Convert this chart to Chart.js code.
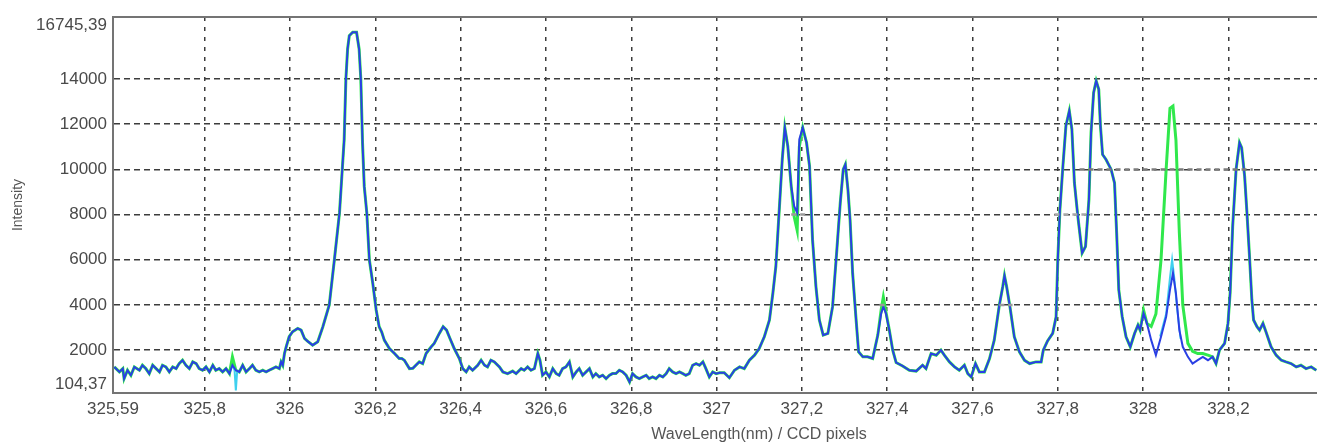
<!DOCTYPE html>
<html>
<head>
<meta charset="utf-8">
<title>Spectrum</title>
<script src="https://cdn.jsdelivr.net/npm/chart.js@4.4.1/dist/chart.umd.min.js"></script>
<style>
  html, body { margin: 0; padding: 0; background: #ffffff; overflow: hidden; }
  #wrap { width: 1317px; height: 443px; overflow: hidden; position: relative; }
  canvas { display: block; }
</style>
</head>
<body>
<div id="wrap"><canvas id="spectrum" width="1405" height="443"></canvas></div>
<script>
// Wavelength grid (nm), ten samples per row
const wavelengths = [
  325.588, 325.600, 325.608, 325.611, 325.619, 325.627, 325.635, 325.647, 325.654, 325.662,
  325.670, 325.678, 325.686, 325.694, 325.701, 325.709, 325.717, 325.725, 325.733, 325.740,
  325.748, 325.756, 325.764, 325.772, 325.780, 325.787, 325.795, 325.803, 325.811, 325.819,
  325.826, 325.834, 325.842, 325.850, 325.858, 325.865, 325.873, 325.881, 325.889, 325.897,
  325.905, 325.912, 325.920, 325.928, 325.936, 325.944, 325.951, 325.959, 325.967, 325.975,
  325.979, 325.983, 325.987, 325.991, 325.998, 326.006, 326.018, 326.026, 326.034, 326.041,
  326.053, 326.065, 326.077, 326.092, 326.104, 326.116, 326.123, 326.127, 326.131, 326.135,
  326.139, 326.147, 326.156, 326.162, 326.166, 326.170, 326.174, 326.180, 326.186, 326.194,
  326.202, 326.209, 326.215, 326.221, 326.233, 326.245, 326.256, 326.262, 326.268, 326.280,
  326.288, 326.295, 326.303, 326.311, 326.319, 326.331, 326.338, 326.350, 326.359, 326.367,
  326.375, 326.385, 326.397, 326.405, 326.413, 326.420, 326.428, 326.440, 326.448, 326.456,
  326.463, 326.471, 326.479, 326.491, 326.499, 326.510, 326.522, 326.530, 326.542, 326.549,
  326.557, 326.565, 326.573, 326.581, 326.586, 326.592, 326.600, 326.608, 326.616, 326.624,
  326.631, 326.639, 326.647, 326.655, 326.663, 326.671, 326.678, 326.686, 326.694, 326.702,
  326.710, 326.717, 326.725, 326.733, 326.741, 326.749, 326.756, 326.764, 326.772, 326.780,
  326.788, 326.796, 326.803, 326.811, 326.819, 326.827, 326.835, 326.842, 326.850, 326.858,
  326.866, 326.874, 326.882, 326.889, 326.897, 326.905, 326.913, 326.921, 326.928, 326.936,
  326.944, 326.952, 326.960, 326.968, 326.975, 326.983, 326.991, 326.999, 327.007, 327.018,
  327.030, 327.042, 327.054, 327.065, 327.077, 327.089, 327.100, 327.112, 327.124, 327.132,
  327.139, 327.147, 327.154, 327.160, 327.167, 327.175, 327.182, 327.189, 327.194, 327.202,
  327.211, 327.218, 327.225, 327.233, 327.241, 327.250, 327.261, 327.272, 327.282, 327.290,
  327.297, 327.302, 327.308, 327.313, 327.319, 327.326, 327.333, 327.343, 327.354, 327.366,
  327.378, 327.386, 327.391, 327.397, 327.405, 327.413, 327.421, 327.436, 327.452, 327.468,
  327.483, 327.491, 327.503, 327.515, 327.526, 327.534, 327.546, 327.558, 327.569, 327.581,
  327.589, 327.597, 327.607, 327.616, 327.628, 327.640, 327.651, 327.663, 327.671, 327.675,
  327.680, 327.688, 327.698, 327.710, 327.722, 327.734, 327.749, 327.761, 327.766, 327.776,
  327.788, 327.796, 327.800, 327.805, 327.812, 327.819, 327.827, 327.833, 327.839, 327.847,
  327.857, 327.865, 327.873, 327.878, 327.884, 327.890, 327.896, 327.900, 327.905, 327.913,
  327.925, 327.933, 327.938, 327.943, 327.951, 327.960, 327.970, 327.980, 327.988, 327.993,
  328.001, 328.009, 328.019, 328.030, 328.042, 328.054, 328.063, 328.070, 328.077, 328.085,
  328.093, 328.105, 328.116, 328.128, 328.140, 328.152, 328.163, 328.171, 328.179, 328.191,
  328.199, 328.204, 328.210, 328.218, 328.226, 328.231, 328.238, 328.243, 328.249, 328.255,
  328.259, 328.267, 328.273, 328.281, 328.288, 328.300, 328.312, 328.324, 328.335, 328.347,
  328.359, 328.370, 328.382, 328.394, 328.406
];

// Measured intensity, blue trace
const blueCounts = [
  1259, 1037, 1185, 741, 1111, 889, 1259, 1111, 1333, 1185,
  963, 1333, 1185, 1037, 1333, 1259, 1037, 1259, 1185, 1407,
  1556, 1333, 1185, 1482, 1407, 1185, 1111, 1259, 1037, 1333,
  1111, 1185, 1037, 1185, 963, 1333, 1111, 1037, 1333, 1037,
  1185, 1333, 1111, 1037, 1111, 1037, 1111, 1185, 1259, 1185,
  1482, 1333, 1852, 2148, 2593, 2815, 2963, 2889, 2519, 2400,
  2222, 2370, 3037, 4000, 6000, 8074, 10148, 11330, 14000, 15330,
  15920, 16070, 16070, 15330, 14000, 11180, 9260, 8074, 6000, 4963,
  3780, 3037, 2800, 2444, 2074, 1852, 1630, 1630, 1556, 1185,
  1200, 1333, 1481, 1407, 1852, 2148, 2296, 2741, 3037, 2889,
  2519, 2074, 1630, 1185, 1037, 1259, 1111, 1333, 1556, 1333,
  1259, 1556, 1481, 1259, 1037, 963, 1074, 963, 1185, 1111,
  1259, 1111, 1185, 1852, 1556, 889, 1037, 815, 1185, 963,
  889, 1185, 1259, 1481, 815, 1037, 1185, 889, 1037, 1185,
  815, 963, 815, 889, 741, 889, 963, 963, 1111, 1037,
  889, 593, 963, 815, 741, 815, 889, 741, 815, 741,
  889, 815, 963, 1185, 1037, 963, 1037, 963, 889, 963,
  1333, 1407, 1333, 1481, 1185, 815, 1037, 963, 1000, 1000,
  780, 1111, 1259, 1185, 1556, 1778, 2074, 2593, 3333, 4519,
  5704, 8222, 10440, 11850, 11030, 9260, 8370, 8074, 11330, 11850,
  11180, 10150, 6890, 4814, 3333, 2667, 2741, 3926, 6440, 8519,
  10000, 10220, 9110, 7780, 5407, 3630, 1926, 1704, 1704, 1630,
  2667, 3630, 3926, 3630, 2889, 2000, 1450, 1300, 1111, 1074,
  1333, 1185, 1852, 1778, 2000, 1778, 1481, 1259, 1111, 1333,
  963, 815, 1407, 1037, 1037, 1630, 2444, 4000, 4815, 5300,
  4815, 3900, 2593, 1926, 1550, 1407, 1481, 1481, 2000, 2407,
  2741, 3481, 6000, 8222, 10150, 11920, 12590, 11780, 9400, 7925,
  6300, 6590, 8666, 11630, 13400, 13920, 13550, 11920, 10660, 10440,
  10000, 9400, 7180, 4666, 3481, 2593, 2148, 2741, 3111, 2889,
  3630, 3185, 2444, 1778, 2593, 3481, 4666, 5407, 4519, 2889,
  2148, 1704, 1407, 1556, 1704, 1556, 1704, 1407, 2000, 2296,
  3185, 4519, 7481, 10000, 11180, 10960, 9700, 8222, 6300, 4222,
  3333, 3037, 2889, 3185, 2815, 2148, 1778, 1556, 1481, 1407,
  1259, 1333, 1185, 1259, 1111
];

// Measured intensity, green trace
const greenCounts = [
  1259, 1037, 1185, 741, 1111, 889, 1259, 1111, 1333, 1185,
  963, 1333, 1185, 1037, 1333, 1259, 1037, 1259, 1185, 1407,
  1556, 1333, 1185, 1482, 1407, 1185, 1111, 1259, 1037, 1333,
  1111, 1185, 1037, 1185, 963, 1704, 1111, 1037, 1333, 1037,
  1185, 1333, 1111, 1037, 1111, 1037, 1111, 1185, 1259, 1185,
  1482, 1333, 1852, 2148, 2593, 2815, 2963, 2889, 2519, 2400,
  2222, 2370, 3037, 4000, 6000, 8074, 10148, 11330, 14000, 15330,
  15920, 16070, 16070, 15330, 14000, 11180, 9260, 8074, 6000, 4963,
  3780, 3037, 2800, 2444, 2074, 1852, 1630, 1630, 1556, 1185,
  1200, 1333, 1481, 1407, 1852, 2148, 2296, 2741, 3037, 2889,
  2519, 2074, 1630, 1185, 1037, 1259, 1111, 1333, 1556, 1333,
  1259, 1556, 1481, 1259, 1037, 963, 1074, 963, 1185, 1111,
  1259, 1111, 1185, 1852, 1556, 889, 1037, 815, 1185, 963,
  889, 1185, 1259, 1481, 815, 1037, 1185, 889, 1037, 1185,
  815, 963, 815, 889, 741, 889, 963, 963, 1111, 1037,
  889, 593, 963, 815, 741, 815, 889, 741, 815, 741,
  889, 815, 963, 1185, 1037, 963, 1037, 963, 889, 963,
  1333, 1407, 1333, 1481, 1185, 815, 1037, 963, 1000, 1000,
  780, 1111, 1259, 1185, 1556, 1778, 2074, 2593, 3333, 4519,
  5704, 8222, 10440, 11850, 11030, 9260, 7900, 7300, 11000, 11850,
  11180, 10150, 6890, 4814, 3333, 2667, 2741, 3926, 6440, 8519,
  10000, 10220, 9110, 7780, 5407, 3630, 1926, 1704, 1704, 1630,
  2667, 3800, 4350, 3700, 2889, 2000, 1450, 1300, 1111, 1074,
  1333, 1185, 1852, 1778, 2000, 1778, 1481, 1259, 1111, 1333,
  963, 815, 1407, 1037, 1037, 1630, 2444, 4000, 4815, 5300,
  4815, 3900, 2593, 1926, 1550, 1407, 1481, 1481, 2000, 2407,
  2741, 3481, 6000, 8222, 10150, 11920, 12590, 11780, 9400, 7925,
  6300, 6590, 8666, 11630, 13400, 13920, 13550, 11920, 10660, 10440,
  10000, 9400, 7180, 4666, 3481, 2593, 2148, 2741, 3111, 2889,
  3778, 3185, 3050, 3600, 6000, 10000, 12700, 12800, 11300, 7180,
  4000, 2300, 1950, 1852, 1852, 1778, 1704, 1407, 2000, 2296,
  3185, 4519, 7481, 10000, 11180, 10960, 9700, 8222, 6300, 4222,
  3333, 3037, 2889, 3185, 2815, 2148, 1778, 1556, 1481, 1407,
  1259, 1333, 1185, 1259, 1111
];

// Cyan trace: only the short stretches where it leaves the other two
const cyanWavelengths = [325.866, 325.870, 325.873, 325.876, 325.880, 325.885,
                         328.040, 328.054, 328.063, 328.068, 328.073, 328.080, 328.088];
const cyanCounts      = [1300, 1100, 222, 1050, 1037, null,
                         2600, 3600, 5200, 6000, 5200, 3800, 2500];

// Peak window markers (grey dashed levels)
const markerStart = [327.851, 327.792, 327.175, 327.663, 327.382];
const markerEnd   = [328.257, 327.881, 327.210, 327.694, 327.397];
const markerLevel = [10000, 8000, 8000, 4000, 4000];
const markerColor = ['#7c7c7c', '#a8a8a8', '#9a9a9a', '#9a9a9a', '#9a9a9a'];

// Axis ticks and their printed labels
const xMin = 325.585;
const xMax = 328.614;
const xTickValues = [325.585, 325.8, 326.0, 326.2, 326.4, 326.6, 326.8, 327.0, 327.2, 327.4, 327.6, 327.8, 328.0, 328.2];
const xTickLabels = ['325,59', '325,8', '326', '326,2', '326,4', '326,6', '326,8', '327', '327,2', '327,4', '327,6', '327,8', '328', '328,2'];
const yMin = 104.37;
const yMax = 16745.39;
const yTickValues = [104.37, 2000, 4000, 6000, 8000, 10000, 12000, 14000, 16745.39];
const yTickLabels = [['104,37', ''], '2000', '4000', '6000', '8000', '10000', '12000', '14000', ['', '16745,39']];

const toPoints = (xs, ys) => xs.map((x, i) => ({ x: x, y: ys[i] }));

const markerSets = markerLevel.map((lvl, i) => ({
  data: [{ x: markerStart[i], y: lvl }, { x: markerEnd[i], y: lvl }],
  borderColor: markerColor[i],
  borderWidth: 2.5,
  borderDash: [5, 4],
  pointRadius: 0
}));

const gridColor = '#3c3c3c';
const axisColor = '#747474';
const tickFont = { family: "'Liberation Sans', Arial, sans-serif", size: 17, lineHeight: 1.0 };

// Closes the frame along the top of the plot
const topFrame = {
  id: 'topFrame',
  afterDraw(chart) {
    const { ctx, chartArea } = chart;
    ctx.save();
    ctx.strokeStyle = axisColor;
    ctx.lineWidth = 2;
    ctx.beginPath();
    ctx.moveTo(chartArea.left, chartArea.top);
    ctx.lineTo(chartArea.right, chartArea.top);
    ctx.stroke();
    ctx.restore();
  }
};

// The first dataset in the list is painted last, so the markers sit on top
new Chart(document.getElementById('spectrum'), {
  type: 'line',
  data: {
    datasets: [
      ...markerSets,
      { data: toPoints(wavelengths, blueCounts), borderColor: '#2a3fe4', borderWidth: 2, pointRadius: 0 },
      { data: toPoints(cyanWavelengths, cyanCounts), borderColor: '#3fd0ee', borderWidth: 2, pointRadius: 0, spanGaps: false },
      { data: toPoints(wavelengths, greenCounts), borderColor: '#30e84c', borderWidth: 3, pointRadius: 0 }
    ]
  },
  options: {
    responsive: false,
    animation: false,
    devicePixelRatio: 1,
    layout: { padding: { top: 17, left: 0, right: 0, bottom: 0 } },
    plugins: { legend: { display: false }, tooltip: { enabled: false } },
    elements: { line: { tension: 0 } },
    scales: {
      x: {
        type: 'linear',
        min: xMin,
        max: xMax,
        afterBuildTicks: (axis) => { axis.ticks = xTickValues.map(v => ({ value: v })); },
        afterFit: (axis) => { axis.height = 50; axis.paddingLeft = 0; axis.paddingRight = 0; },
        ticks: {
          autoSkip: false,
          maxRotation: 0,
          padding: 8,
          color: '#4a4a4a',
          font: tickFont,
          callback: (v, i) => xTickLabels[i]
        },
        grid: {
          drawTicks: false,
          lineWidth: 1.5,
          color: (c) => (c.index === 0 ? 'rgba(0,0,0,0)' : gridColor)
        },
        border: { display: true, color: axisColor, width: 2, dash: [4, 6] },
        title: {
          display: true,
          text: 'WaveLength(nm) / CCD pixels',
          color: '#555555',
          font: { family: "'Liberation Sans', Arial, sans-serif", size: 16, lineHeight: 1.0 },
          padding: { top: 0, bottom: 0 }
        }
      },
      y: {
        type: 'linear',
        min: yMin,
        max: yMax,
        afterBuildTicks: (axis) => { axis.ticks = yTickValues.map(v => ({ value: v })); },
        afterFit: (axis) => { axis.width = 113; axis.paddingTop = 0; axis.paddingBottom = 0; },
        ticks: {
          autoSkip: false,
          padding: 6,
          color: '#4a4a4a',
          font: tickFont,
          callback: (v, i) => yTickLabels[i]
        },
        grid: {
          drawTicks: false,
          lineWidth: 1.5,
          color: (c) => (c.index === 0 || c.index === yTickValues.length - 1 ? 'rgba(0,0,0,0)' : gridColor)
        },
        border: { display: true, color: axisColor, width: 2, dash: [6, 4] },
        title: {
          display: true,
          text: 'Intensity',
          color: '#555555',
          font: { family: "'Liberation Sans', Arial, sans-serif", size: 14, lineHeight: 1.0 },
          padding: { top: 11, bottom: 0 }
        }
      }
    }
  },
  plugins: [topFrame]
});
</script>
</body>
</html>
